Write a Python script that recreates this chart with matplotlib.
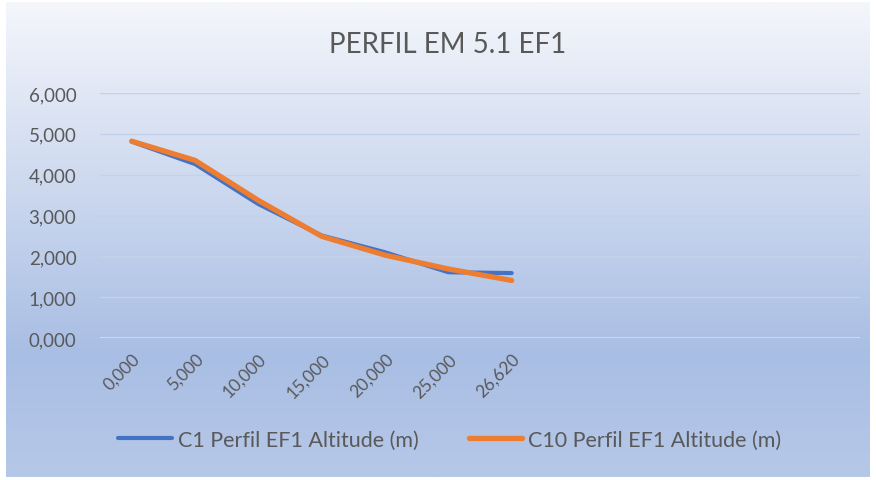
import numpy as np
import matplotlib
matplotlib.use("Agg")
import matplotlib.pyplot as plt
from matplotlib.colors import LinearSegmentedColormap

# perfil de altitude (km ao longo do traçado x altitude em km)
categorias = ["0,000", "5,000", "10,000", "15,000", "20,000", "25,000", "26,620"]
c1_altitude = [4.81, 4.26, 3.28, 2.51, 2.10, 1.61, 1.59]
c10_altitude = [4.82, 4.35, 3.37, 2.49, 2.03, 1.69, 1.41]
n_slots = 12  # o eixo de categorias tem linhas vazias no fim

txt = "#595959"
plt.rcParams["font.family"] = ["Lato", "DejaVu Sans"]

fig = plt.figure(figsize=(8.76, 4.81), dpi=100)
fig.patch.set_facecolor("white")

# fundo em gradiente
bg = fig.add_axes([6 / 876, 3 / 481, 864 / 876, 475 / 481])
cmap = LinearSegmentedColormap.from_list(
    "grad", [(0.0, "#f4f6fb"), (0.74, "#a9bee4"), (1.0, "#b6c8e8")])
bg.imshow(np.linspace(0, 1, 256).reshape(-1, 1), cmap=cmap, aspect="auto",
          extent=[0, 1, 0, 1], origin="upper")
bg.axis("off")

ax = fig.add_axes([100 / 876, 1 - 339 / 481, 760 / 876, 245 / 481])
ax.patch.set_alpha(0)
x = np.arange(len(categorias))
ax.plot(x, c1_altitude, color="#4472c4", lw=3.0, solid_capstyle="round",
        solid_joinstyle="round", label="C1 Perfil EF1 Altitude (m)", zorder=3)
ax.plot(x, c10_altitude, color="#ed7d31", lw=3.8, solid_capstyle="round",
        solid_joinstyle="round", label="C10 Perfil EF1 Altitude (m)", zorder=4)

ax.set_xlim(-0.5, n_slots - 0.5)
ax.set_ylim(0, 6)
ax.set_yticks(np.arange(0, 7))
ax.set_yticklabels([f"{v},000" for v in range(7)], fontsize=13.5, color=txt)
ax.set_xticks(x)
ax.set_xticklabels(categorias, rotation=45, ha="right", va="top",
                   rotation_mode="anchor", fontsize=12.5, color=txt)
ax.tick_params(length=0)
ax.tick_params(axis="y", pad=17)
ax.tick_params(axis="x", pad=9)
for s in ax.spines.values():
    s.set_visible(False)
for v in range(1, 7):
    ax.axhline(v, color="#c4d1ea", lw=1.0, zorder=1)
ax.axhline(0, color="#d9d9d9", lw=1.3, zorder=2)

fig.text(448 / 876, 1 - 45 / 481, "PERFIL EM 5.1 EF1", ha="center",
         va="center", fontsize=20, color=txt)

fig.legend(loc="center", bbox_to_anchor=(450 / 876, 1 - 441 / 481), ncol=2,
           frameon=False, fontsize=15.5, labelcolor=txt, handlelength=2.5,
           handletextpad=0.28, columnspacing=2.3)

fig.savefig("out.png", dpi=100, facecolor="white")
